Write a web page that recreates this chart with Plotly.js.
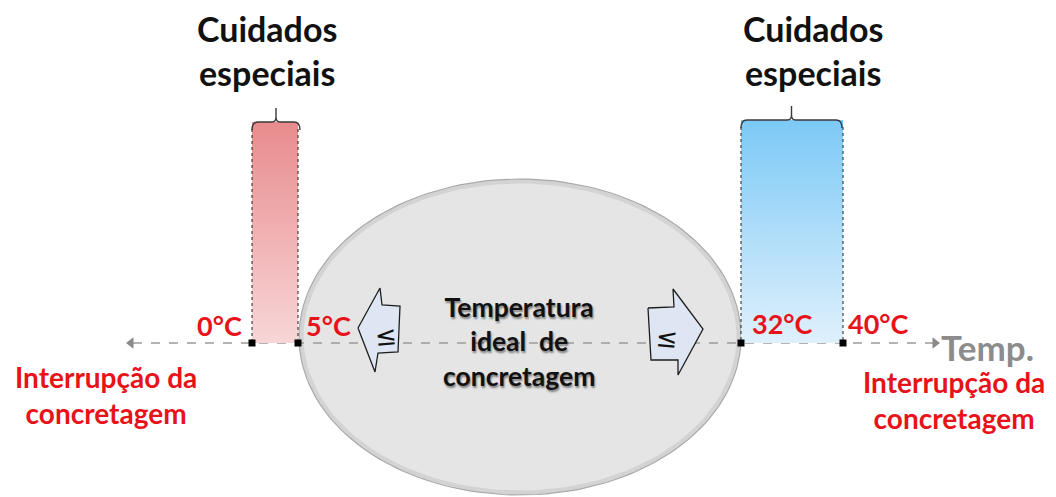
<!DOCTYPE html>
<html>
<head>
<meta charset="utf-8">
<script src="https://cdn.plot.ly/plotly-3.0.1.min.js"></script>
<style>html,body{margin:0;padding:0;background:#fff;}#chart{width:1056px;height:497px;}</style>
</head>
<body>
<div id="chart"></div>
<script>
// ---- data ----
const temps = [0, 5, 32, 40];
const tempLabels = ['0°C', '5°C', '32°C', '40°C'];
const zoneLeftOut = 'Interrupção da<br>concretagem';
const zoneCareTitle = 'Cuidados<br>especiais';
const zoneIdeal = 'Temperatura<br>ideal  de<br>concretagem';
const zoneRightOut = 'Interrupção da<br>concretagem';
const axisTitle = 'Temp.';
const limitSymbol = '≤';

// ---- schematic layout (positions of the thresholds on the diagram) ----
const W = 1056, H = 497;
const tickPos = [252, 298, 741, 843];
const axisY = 343;
const axisEnds = [133, 933];
const FONT = 'Lato, "Open Sans", sans-serif';
const RED = '#e8121a';

const traces = [];

// ideal zone ellipse
const ell = {cx: 520, cy: 337, rx: 221, ry: 158};
function ellipsePts(rx, ry) {
  const ex = [], ey = [];
  for (let i = 0; i <= 160; i++) {
    const t = 2 * Math.PI * i / 160;
    ex.push(ell.cx + rx * Math.cos(t));
    ey.push(ell.cy + ry * Math.sin(t));
  }
  return {x: ex, y: ey};
}
const outer = ellipsePts(ell.rx, ell.ry);
traces.push({
  x: outer.x, y: outer.y, mode: 'lines', fill: 'toself', fillcolor: '#e5e5e5',
  line: {color: '#a8a8a8', width: 1.2}, hoverinfo: 'skip'
});
const rim = ellipsePts(ell.rx - 2.5, ell.ry - 2.5);
traces.push({
  x: rim.x, y: rim.y, mode: 'lines',
  line: {color: 'rgba(170,170,170,0.3)', width: 4}, hoverinfo: 'skip'
});

// temperature axis (dashed)
traces.push({
  x: [axisEnds[0], axisEnds[1]], y: [axisY, axisY], mode: 'lines',
  line: {color: '#9a9a9a', width: 1.4, dash: 'dash'}, hoverinfo: 'skip'
});
traces.push({
  x: [axisEnds[0] - 2, axisEnds[1] + 2], y: [axisY, axisY], mode: 'markers',
  marker: {symbol: ['triangle-left', 'triangle-right'], size: 10, color: '#8a8a8a'},
  hoverinfo: 'skip'
});

// block arrows
const leftArrow = {x: [358, 380, 382, 400, 398, 378, 375, 358], y: [328, 288, 305, 306, 352, 353, 372, 328]};
const rightArrow = {x: [648, 674, 673, 703, 678, 678, 651, 648], y: [308, 307, 289, 329, 375, 360, 360, 308]};
[leftArrow, rightArrow].forEach(a => traces.push({
  x: a.x, y: a.y, mode: 'lines', fill: 'toself', fillcolor: '#dde6f2',
  line: {color: '#1e1e1e', width: 1.3}, hoverinfo: 'skip'
}));

// "cuidados especiais" bars
const barTops = [122, 120];
const barScales = [
  [[0, '#f7d6d7'], [1, '#e98b8d']],
  [[0, '#dff0fc'], [1, '#7cc9f6']]
];
[[0, 1], [2, 3]].forEach((pair, k) => {
  const x0 = tickPos[pair[0]], x1 = tickPos[pair[1]];
  traces.push({
    x: [x0, x1, x1, x0, x0], y: [barTops[k], barTops[k], axisY, axisY, barTops[k]],
    mode: 'lines', fill: 'toself', line: {width: 0, color: 'rgba(0,0,0,0)'},
    fillgradient: {type: 'vertical', colorscale: barScales[k]},
    hoverinfo: 'skip'
  });
  traces.push({
    x: [x0, x0], y: [barTops[k] + 7, axisY], mode: 'lines',
    line: {color: '#222', width: 1, dash: 'dot'}, hoverinfo: 'skip'
  });
  traces.push({
    x: [x1, x1], y: [barTops[k] + 7, axisY], mode: 'lines',
    line: {color: '#222', width: 1, dash: 'dot'}, hoverinfo: 'skip'
  });
});

// threshold markers
traces.push({
  x: tickPos, y: tickPos.map(() => axisY), mode: 'markers',
  marker: {symbol: 'square', size: 7, color: '#000'},
  text: tempLabels, hoverinfo: 'skip'
});

// braces on top of the bars
const shapes = [];
[[0, 1], [2, 3]].forEach((pair, k) => {
  const x0 = tickPos[pair[0]], x1 = tickPos[pair[1]] + (k === 0 ? 2 : -1);
  const xm = (x0 + x1) / 2, yt = barTops[k];
  shapes.push({
    type: 'path', xref: 'x', yref: 'y',
    path: `M ${x0} ${yt + 8} Q ${x0} ${yt} ${x0 + 6} ${yt} L ${xm - 4} ${yt} Q ${xm} ${yt} ${xm} ${yt - 5} L ${xm} ${yt - 14} M ${xm} ${yt - 5} Q ${xm} ${yt} ${xm + 4} ${yt} L ${x1 - 6} ${yt} Q ${x1} ${yt} ${x1} ${yt + 8}`,
    line: {color: '#3a3a3a', width: 1.4}
  });
});

// text
const ann = [];
const bold = (size, color) => ({family: FONT, size: size, color: color, weight: 700});
ann.push({x: 267, y: 50, text: zoneCareTitle, font: bold(34, '#111')});
ann.push({x: 813, y: 50, text: zoneCareTitle, font: bold(34, '#111')});
const labelPos = [[219, 325], [328, 325], [782, 323], [878, 323]];
tempLabels.forEach((t, i) => ann.push({x: labelPos[i][0], y: labelPos[i][1], text: t, font: bold(27, RED)}));
ann.push({x: 106, y: 395, text: zoneLeftOut, font: bold(28, RED)});
ann.push({x: 954, y: 400, text: zoneRightOut, font: bold(28, RED)});
ann.push({x: 987, y: 347, text: axisTitle, font: bold(35, '#8c8c8c')});
ann.push({x: 519, y: 341, text: zoneIdeal,
  font: Object.assign(bold(26.5, '#111'), {shadow: '1px 2px 2px rgba(0,0,0,0.45)'})});
ann.push({x: 386, y: 336, text: limitSymbol, textangle: -5, font: {family: '"DejaVu Sans"', size: 26, color: '#111'}});
ann.push({x: 667, y: 338, text: limitSymbol, textangle: 5, font: {family: '"DejaVu Sans"', size: 26, color: '#111'}});
ann.forEach(a => { a.xref = 'x'; a.yref = 'y'; a.showarrow = false; a.xanchor = 'center'; a.yanchor = 'middle'; });

const layout = {
  width: W, height: H,
  margin: {l: 0, r: 0, t: 0, b: 0, pad: 0},
  paper_bgcolor: '#fff', plot_bgcolor: '#fff',
  xaxis: {range: [0, W], visible: false, fixedrange: true},
  yaxis: {range: [H, 0], visible: false, fixedrange: true},
  showlegend: false, hovermode: false,
  shapes: shapes, annotations: ann
};
Plotly.newPlot('chart', traces, layout, {staticPlot: true, displayModeBar: false});
</script>
</body>
</html>
